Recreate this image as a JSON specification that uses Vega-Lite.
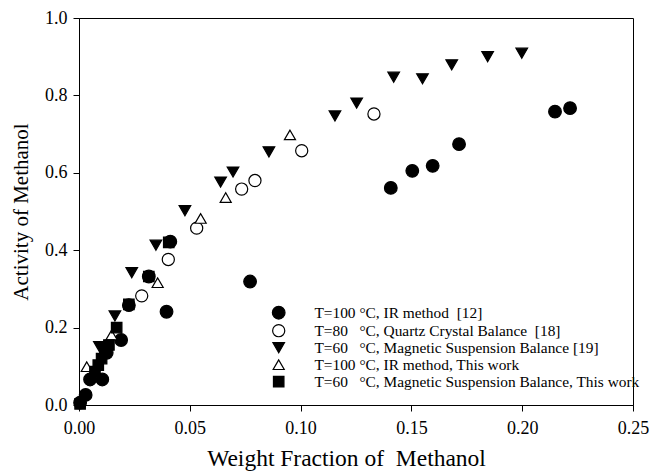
{
  "$schema": "https://vega.github.io/schema/vega-lite/v6.json",
  "width": 554,
  "height": 387,
  "autosize": {"type": "none"},
  "padding": {"left": 79, "top": 18, "right": 18, "bottom": 68},
  "background": "white",
  "config": {
    "font": "Liberation Serif",
    "view": {"stroke": "black", "strokeWidth": 1},
    "axis": {
      "grid": false,
      "domainColor": "black",
      "domainWidth": 1,
      "tickColor": "black",
      "tickSize": 6,
      "labelFlush": false,
      "labelFont": "Liberation Serif",
      "labelFontSize": 18,
      "labelColor": "black",
      "titleFont": "Liberation Serif",
      "titleFontWeight": "normal",
      "titleColor": "black"
    }
  },
  "data": {
    "values": [
      {"series": "s1", "x": 0.0005, "y": 0.006},
      {"series": "s1", "x": 0.003, "y": 0.026},
      {"series": "s1", "x": 0.005, "y": 0.066},
      {"series": "s1", "x": 0.0105, "y": 0.066},
      {"series": "s1", "x": 0.0125, "y": 0.135},
      {"series": "s1", "x": 0.019, "y": 0.168},
      {"series": "s1", "x": 0.0225, "y": 0.258},
      {"series": "s1", "x": 0.0315, "y": 0.332},
      {"series": "s1", "x": 0.0395, "y": 0.241},
      {"series": "s1", "x": 0.0412, "y": 0.422},
      {"series": "s1", "x": 0.0772, "y": 0.319},
      {"series": "s1", "x": 0.1407, "y": 0.561},
      {"series": "s1", "x": 0.1504, "y": 0.605},
      {"series": "s1", "x": 0.1596, "y": 0.618},
      {"series": "s1", "x": 0.1715, "y": 0.674},
      {"series": "s1", "x": 0.2148, "y": 0.758},
      {"series": "s1", "x": 0.2216, "y": 0.767},
      {"series": "s2", "x": 0.0283, "y": 0.282},
      {"series": "s2", "x": 0.0403, "y": 0.376},
      {"series": "s2", "x": 0.0531, "y": 0.457},
      {"series": "s2", "x": 0.0734, "y": 0.558},
      {"series": "s2", "x": 0.0794, "y": 0.58},
      {"series": "s2", "x": 0.1005, "y": 0.657},
      {"series": "s2", "x": 0.1331, "y": 0.752},
      {"series": "s3", "x": 0.0092, "y": 0.151},
      {"series": "s3", "x": 0.0162, "y": 0.23},
      {"series": "s3", "x": 0.0238, "y": 0.342},
      {"series": "s3", "x": 0.0347, "y": 0.413},
      {"series": "s3", "x": 0.0478, "y": 0.502},
      {"series": "s3", "x": 0.0639, "y": 0.576},
      {"series": "s3", "x": 0.0695, "y": 0.602},
      {"series": "s3", "x": 0.0857, "y": 0.654},
      {"series": "s3", "x": 0.1155, "y": 0.747},
      {"series": "s3", "x": 0.1253, "y": 0.78},
      {"series": "s3", "x": 0.142, "y": 0.847},
      {"series": "s3", "x": 0.155, "y": 0.843},
      {"series": "s3", "x": 0.1682, "y": 0.879},
      {"series": "s3", "x": 0.1844, "y": 0.9},
      {"series": "s3", "x": 0.1998, "y": 0.909},
      {"series": "s4", "x": 0.0035, "y": 0.099},
      {"series": "s4", "x": 0.0147, "y": 0.181},
      {"series": "s4", "x": 0.0355, "y": 0.316},
      {"series": "s4", "x": 0.0549, "y": 0.482},
      {"series": "s4", "x": 0.0662, "y": 0.536},
      {"series": "s4", "x": 0.0952, "y": 0.698},
      {"series": "s5", "x": 0.0005, "y": 0.003},
      {"series": "s5", "x": 0.0072, "y": 0.086},
      {"series": "s5", "x": 0.0087, "y": 0.103},
      {"series": "s5", "x": 0.0102, "y": 0.12},
      {"series": "s5", "x": 0.0117, "y": 0.142},
      {"series": "s5", "x": 0.0135, "y": 0.155},
      {"series": "s5", "x": 0.017, "y": 0.2},
      {"series": "s5", "x": 0.0225, "y": 0.26},
      {"series": "s5", "x": 0.0315, "y": 0.332},
      {"series": "s5", "x": 0.0405, "y": 0.42}
    ]
  },
  "transform": [
    {"lookup": "series", "from": {"data": {"values": [
      {"series": "s1", "label": "T=100 °C, IR method\u00a0 [12]"},
      {"series": "s2", "label": "T=80\u00a0\u00a0 °C, Quartz Crystal Balance\u00a0 [18]"},
      {"series": "s3", "label": "T=60\u00a0\u00a0 °C, Magnetic Suspension Balance [19]"},
      {"series": "s4", "label": "T=100 °C, IR method, This work"},
      {"series": "s5", "label": "T=60\u00a0\u00a0 °C, Magnetic Suspension Balance, This work"}
    ]}, "key": "series", "fields": ["label"]}}
  ],
  "mark": {"type": "point", "filled": true, "stroke": "black", "strokeWidth": 1.2, "opacity": 1, "clip": false},
  "encoding": {
    "x": {
      "field": "x", "type": "quantitative",
      "scale": {"domain": [0, 0.25], "nice": false},
      "axis": {"values": [0, 0.05, 0.1, 0.15, 0.2, 0.25], "format": ".2f", "labelPadding": 8, "titlePadding": 9, "titleFontSize": 23.5, "titleX": 267, "title": "Weight Fraction of\u00a0 Methanol"}
    },
    "y": {
      "field": "y", "type": "quantitative",
      "scale": {"domain": [0, 1], "nice": false},
      "axis": {"values": [0, 0.2, 0.4, 0.6, 0.8, 1.0], "format": ".1f", "labelPadding": 6, "titlePadding": 13, "titleFontSize": 21, "title": "Activity of Methanol"}
    },
    "shape": {
      "field": "label", "type": "nominal",
      "scale": {
        "domain": ["T=100 °C, IR method\u00a0 [12]", "T=80\u00a0\u00a0 °C, Quartz Crystal Balance\u00a0 [18]", "T=60\u00a0\u00a0 °C, Magnetic Suspension Balance [19]", "T=100 °C, IR method, This work", "T=60\u00a0\u00a0 °C, Magnetic Suspension Balance, This work"],
        "range": ["circle", "circle", "triangle-down", "triangle-up", "square"]
      },
      "legend": {
        "title": null,
        "orient": "none",
        "legendX": 192,
        "legendY": 287,
        "padding": 0,
        "rowPadding": 0,
        "labelOffset": 28,
        "labelLimit": 500,
        "labelFont": "Liberation Serif",
        "labelFontSize": 15.4,
        "labelColor": "black",
        "symbolStrokeColor": "black",
        "symbolStrokeWidth": 1.2,
        "symbolOpacity": 1
      }
    },
    "fill": {
      "field": "label", "type": "nominal",
      "scale": {
        "domain": ["T=100 °C, IR method\u00a0 [12]", "T=80\u00a0\u00a0 °C, Quartz Crystal Balance\u00a0 [18]", "T=60\u00a0\u00a0 °C, Magnetic Suspension Balance [19]", "T=100 °C, IR method, This work", "T=60\u00a0\u00a0 °C, Magnetic Suspension Balance, This work"],
        "range": ["black", "white", "black", "white", "black"]
      }
    },
    "size": {
      "field": "label", "type": "nominal",
      "scale": {
        "domain": ["T=100 °C, IR method\u00a0 [12]", "T=80\u00a0\u00a0 °C, Quartz Crystal Balance\u00a0 [18]", "T=60\u00a0\u00a0 °C, Magnetic Suspension Balance [19]", "T=100 °C, IR method, This work", "T=60\u00a0\u00a0 °C, Magnetic Suspension Balance, This work"],
        "range": [160, 110, 140, 110, 100]
      }
    }
  }
}
